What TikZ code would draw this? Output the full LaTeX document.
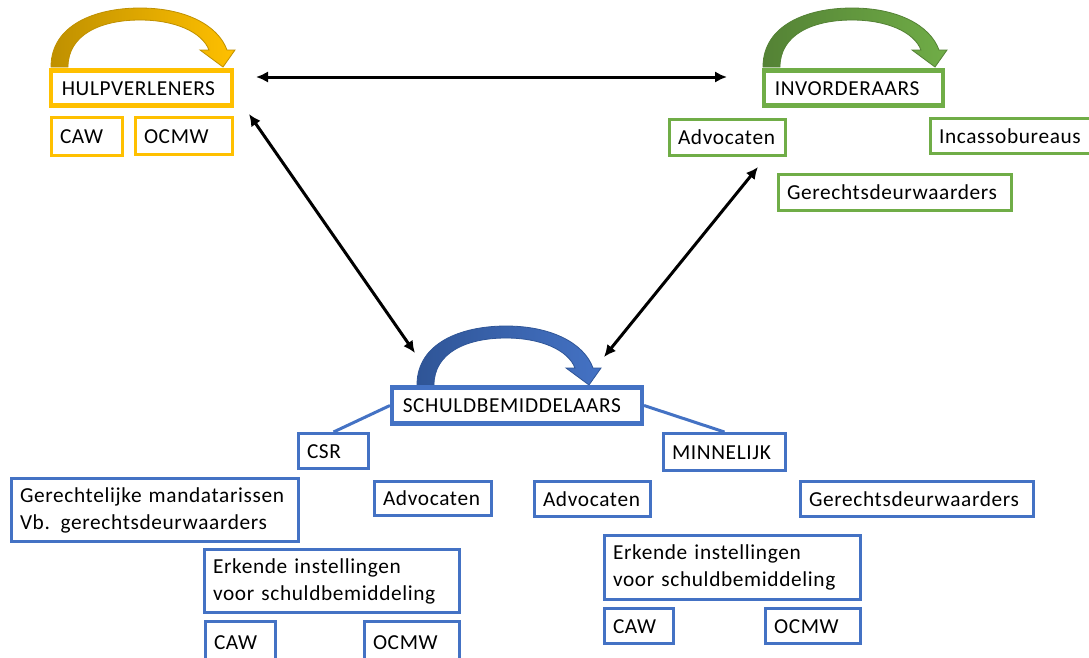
\documentclass[tikz,border=0pt]{standalone}
\usepackage{fontspec}
\setmainfont{Carlito}[LetterSpace=3]
\usetikzlibrary{arrows.meta}
\definecolor{gold}{HTML}{FFC000}
\definecolor{golddk}{HTML}{BF9000}
\definecolor{grn}{HTML}{70AD47}
\definecolor{grndk}{HTML}{548235}
\definecolor{blu}{HTML}{4472C4}
\definecolor{bludk}{HTML}{2F5597}
\newcommand{\bendarrow}[3]{%
  \begin{scope}[shift={(#1)}]
    \path[left color=#2, right color=#3, draw=#2, line width=0.6pt]
      (0,59) .. controls (0,17) and (44,0) .. (89,0)
      .. controls (134,0) and (167,17) .. (176,42)
      -- (184,42) -- (172,59) -- (149,42) -- (158,42)
      .. controls (151,24) and (124,12) .. (89,12)
      .. controls (49,12) and (17,27) .. (17,59) -- cycle;
  \end{scope}}
\tikzset{
  txt/.style={font=\fontsize{16}{20.25}\selectfont, align=left, inner ysep=0pt, fill=white},
  bxm/.style n args={4}{txt, draw, line width=3.4pt,
    at={({(#1+#3)/2},{(#2+#4)/2})},
    minimum width={(#3-#1-4.5)*0.75pt}, minimum height={(#4-#2-4.5)*0.75pt},
    text width={(#3-#1-4.5-21)*0.75pt}, inner xsep=7.9pt,
    text height=13.5pt, text depth=3pt},
  bxs/.style n args={4}{txt, draw, line width=2.25pt,
    at={({(#1+#3)/2},{(#2+#4)/2})},
    minimum width={(#3-#1-3)*0.75pt}, minimum height={(#4-#2-3)*0.75pt},
    text width={(#3-#1-3-17)*0.75pt}, inner xsep=6.4pt,
    text height=13.5pt, text depth=3pt},
  bxt/.style n args={4}{txt, draw, line width=2.25pt,
    at={({(#1+#3)/2},{(#2+#4)/2})},
    minimum width={(#3-#1-3)*0.75pt}, minimum height={(#4-#2-3)*0.75pt},
    text width={(#3-#1-3-17)*0.75pt}, inner xsep=6.4pt},
  gbox/.style={draw=gold},
  grbox/.style={draw=grn},
  bbox/.style={draw=blu},
  conn/.style={draw=blu, line width=2.25pt},
  biarrow/.style={draw=black, line width=2.25pt,
    {Latex[length=9pt,width=8.5pt]}-{Latex[length=9pt,width=8.5pt]}},
}
\begin{document}
\begin{tikzpicture}[x=0.75pt, y=-0.75pt]
\clip (0,0) rectangle (1089,657);
\fill[white] (0,0) rectangle (1089,657);

% curved arrows
\bendarrow{51,8}{golddk}{gold}
\bendarrow{763,8}{grndk}{grn}
\bendarrow{417,326}{bludk}{blu}

% HULPVERLENERS group
\node[gbox, bxm={49}{68}{234}{108}] (hulp) {HULPVERLENERS};
\node[gbox, bxs={50}{116}{124}{157}] (caw1) {CAW};
\node[gbox, bxs={134}{116}{234}{156}] (ocmw1) {OCMW};

% INVORDERAARS group
\node[grbox, bxm={762}{68}{945}{108}] (invord) {INVORDERAARS};
\node[grbox, bxs={668}{118}{787}{157}] (adv1) {Advocaten};
\node[grbox, bxs={929}{117}{1100}{155}] (inc) {Incassobureaus};
\node[grbox, bxs={777}{173}{1013}{212}] (gdw1) {Gerechtsdeurwaarders};

% SCHULDBEMIDDELAARS group
\node[bbox, bxm={390}{385}{644}{426}] (schuld) {SCHULDBEMIDDELAARS};
\node[bbox, bxs={297}{432}{370}{470}] (csr) {CSR};
\node[bbox, bxs={662}{432}{787}{472}] (minn) {MINNELIJK};
\node[bbox, bxt={10}{477}{300}{543}] (gm) {\mbox{Gerechtelijke mandatarissen}\\\mbox{Vb. gerechtsdeurwaarders}};
\node[bbox, bxs={373}{480}{493}{517}] (adv2) {Advocaten};
\node[bbox, bxs={533}{480}{652}{518}] (adv3) {Advocaten};
\node[bbox, bxs={799}{480}{1035}{518}] (gdw2) {Gerechtsdeurwaarders};
\node[bbox, bxt={203}{548}{461}{614}] (erk1) {\mbox{Erkende instellingen}\\\mbox{voor schuldbemiddeling}};
\node[bbox, bxs={204}{620}{277}{664}] (caw2) {CAW};
\node[bbox, bxs={363}{620}{461}{664}] (ocmw2) {OCMW};
\node[bbox, bxt={603}{534}{862}{601}] (erk2) {\mbox{Erkende instellingen}\\\mbox{voor schuldbemiddeling}};
\node[bbox, bxs={603}{607}{675}{645}] (caw3) {CAW};
\node[bbox, bxs={764}{607}{862}{645}] (ocmw3) {OCMW};

% blue connectors
\draw[conn] (schuld.west) -- (csr.north);
\draw[conn] (schuld.east) -- (minn.north);

% black double arrows
\coordinate (h1) at (256,77);
\coordinate (i1) at (727,77);
\coordinate (h2) at (249,114);
\coordinate (s1) at (415,353);
\coordinate (i2) at (758,167);
\coordinate (s2) at (604,357);
\draw[biarrow] (h1) -- (i1);
\draw[biarrow] (h2) -- (s1);
\draw[biarrow] (i2) -- (s2);
\end{tikzpicture}
\end{document}
